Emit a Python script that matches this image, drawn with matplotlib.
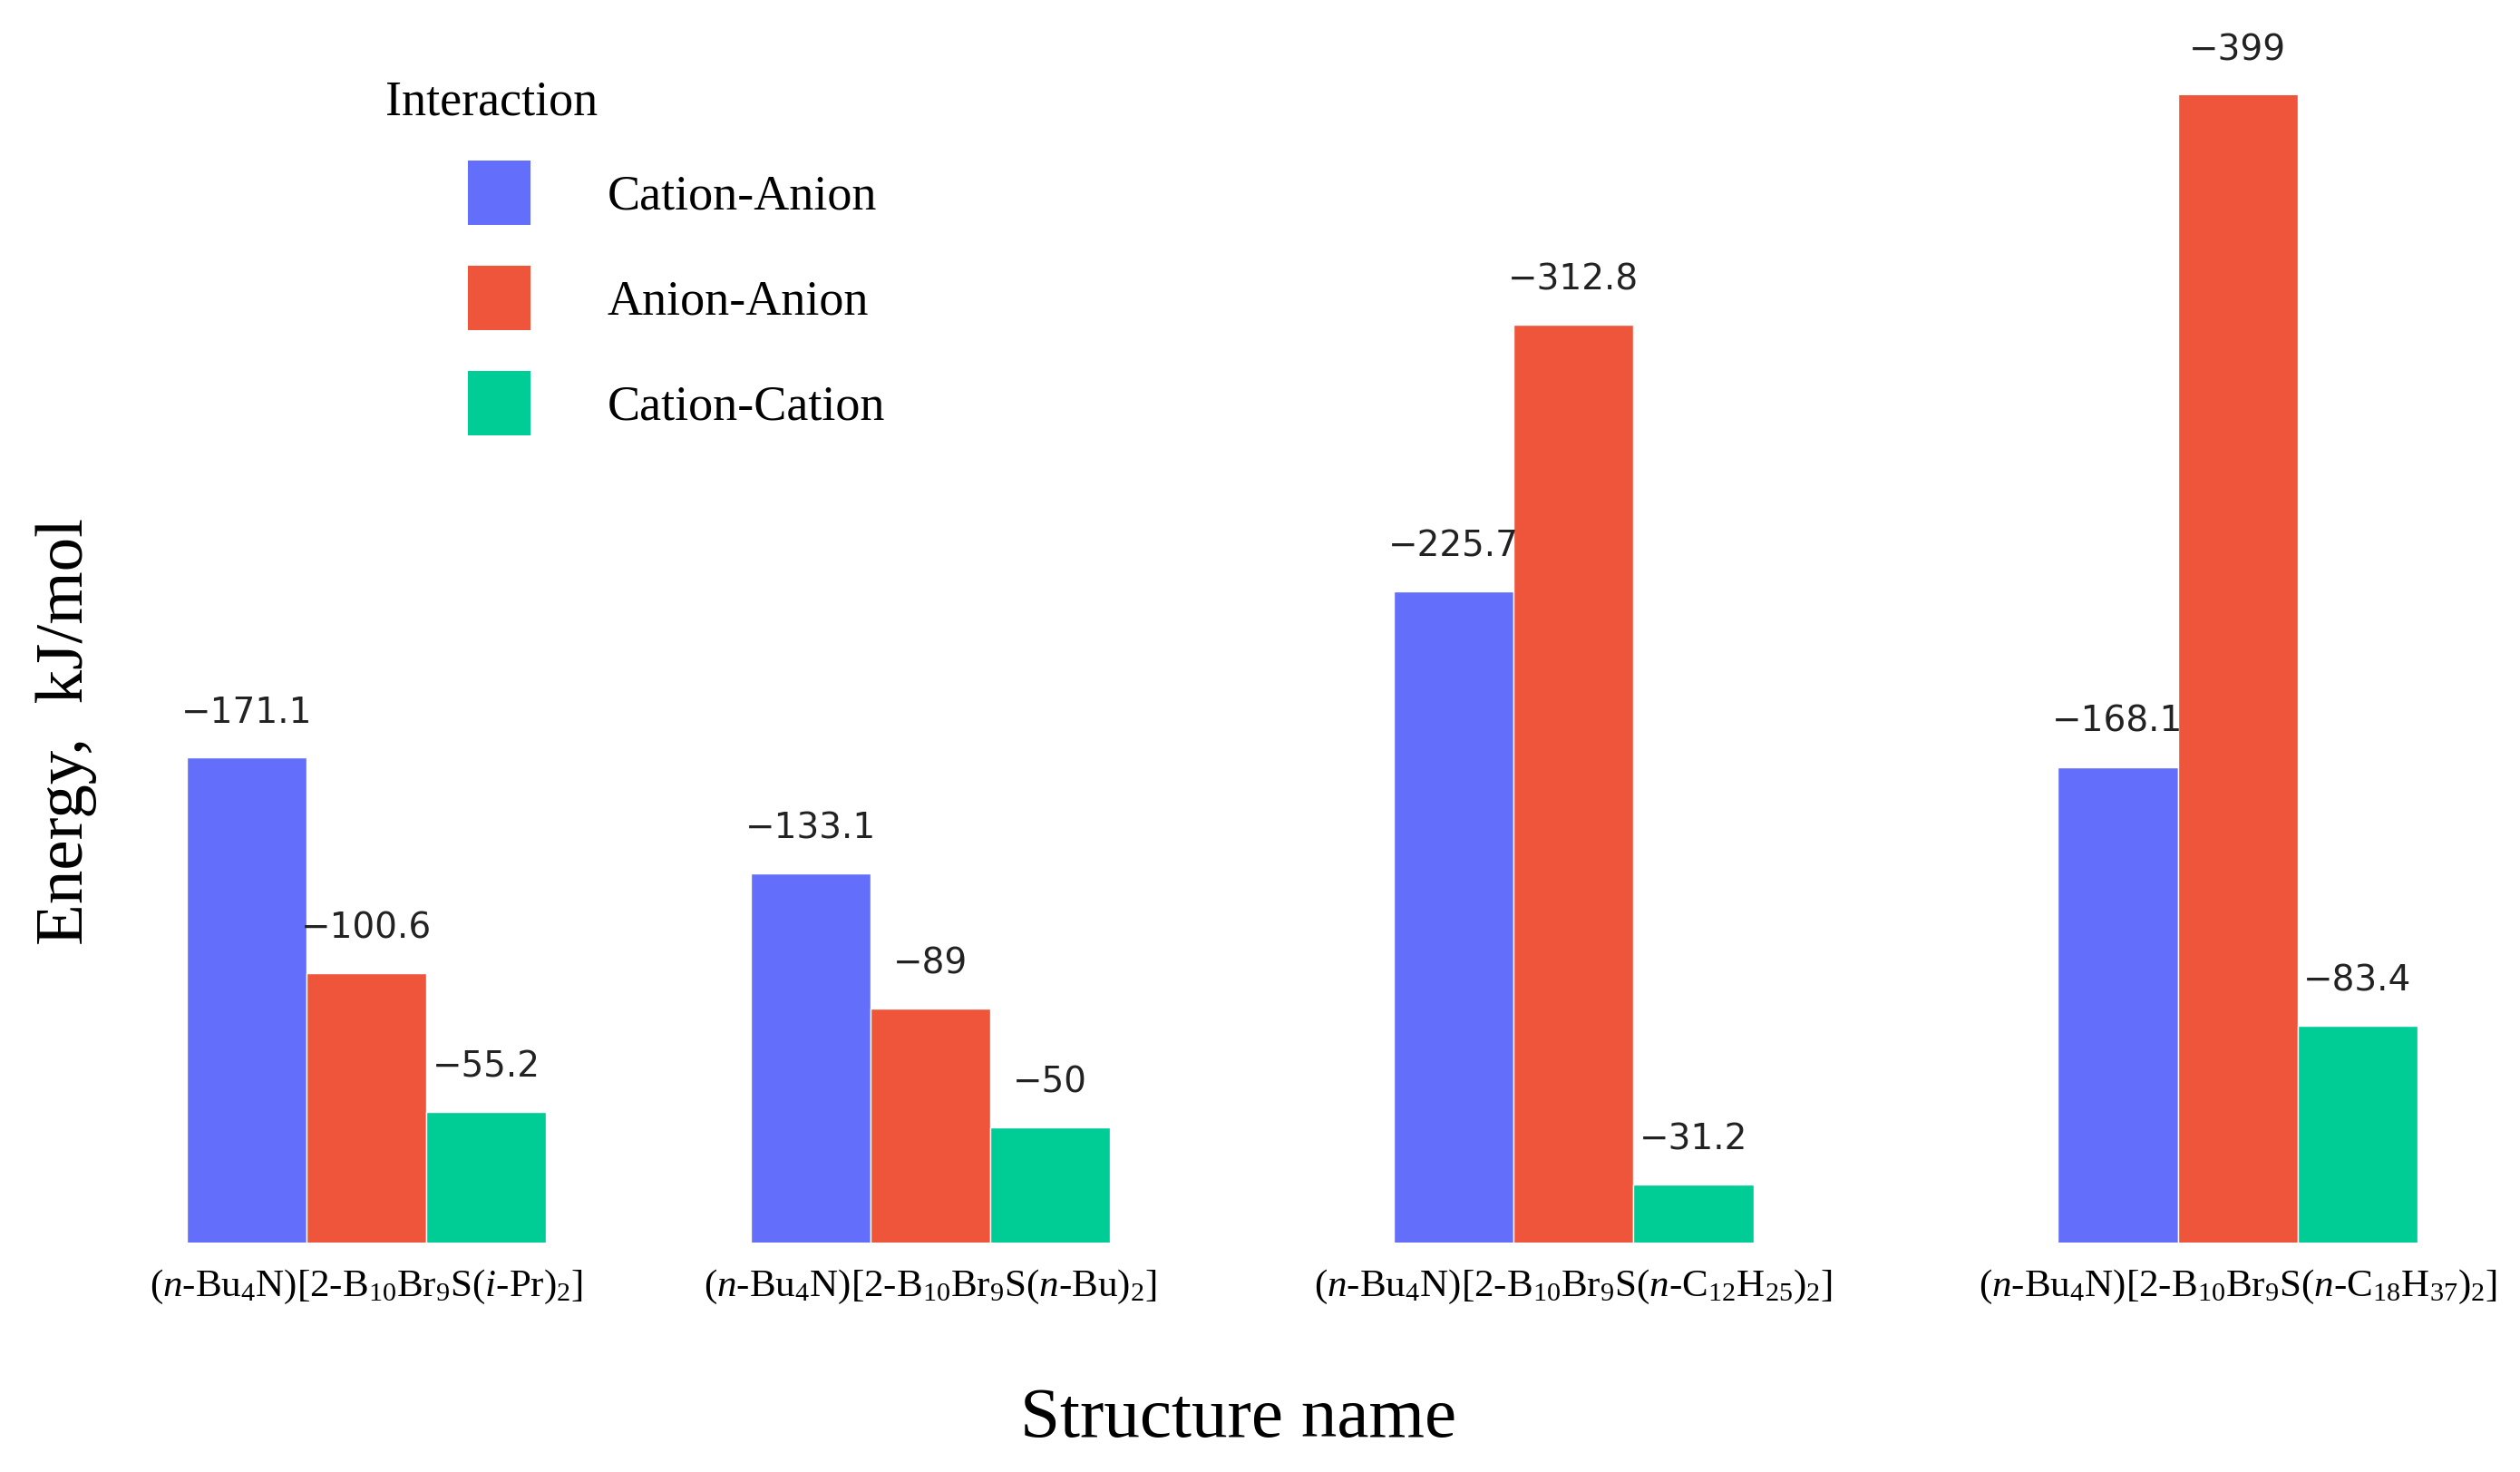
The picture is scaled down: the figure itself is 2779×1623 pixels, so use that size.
import numpy as np
import matplotlib
matplotlib.use('Agg')
import matplotlib.pyplot as plt
from matplotlib.patches import Patch

# data (interaction energies, kJ/mol)
structures = ['($\\it{n}$-Bu$_4$N)[2-B$_{10}$Br$_9$S($\\it{i}$-Pr)$_2$]',
              '($\\it{n}$-Bu$_4$N)[2-B$_{10}$Br$_9$S($\\it{n}$-Bu)$_2$]',
              '($\\it{n}$-Bu$_4$N)[2-B$_{10}$Br$_9$S($\\it{n}$-C$_{12}$H$_{25}$)$_2$]',
              '($\\it{n}$-Bu$_4$N)[2-B$_{10}$Br$_9$S($\\it{n}$-C$_{18}$H$_{37}$)$_2$]']
cation_anion = [-171.1, -133.1, -225.7, -168.1]
anion_anion = [-100.6, -89, -312.8, -399]
cation_cation = [-55.2, -50, -31.2, -83.4]
series_names = ['Cation-Anion', 'Anion-Anion', 'Cation-Cation']
colors = ['#636EFA', '#EF553B', '#00CC96']

# group centres are not evenly spaced in the original
group_pos = np.array([0, 1.002, 2.145, 3.325])
width = 0.213
y_lo, y_hi = 12.3, 388.1   # visible range of the original (tallest bar is cut)

plt.rcParams['mathtext.fontset'] = 'custom'
plt.rcParams['mathtext.rm'] = 'Liberation Serif'
plt.rcParams['mathtext.it'] = 'Liberation Serif:italic'
serif = 'Liberation Serif'

fig = plt.figure(figsize=(27.79, 16.23), dpi=100)
ax = fig.add_axes([0.0741, 0.1559, 0.8852, 0.7794])

series = [cation_anion, anion_anion, cation_cation]
for i, vals in enumerate(series):
    vals = np.array(vals)
    xs = group_pos + (i - 1) * width
    ax.bar(xs, np.abs(vals), width, color=colors[i], edgecolor='white', linewidth=1)
    for x, v in zip(xs, vals):
        ax.annotate('\u2212%g' % abs(v), (x, min(abs(v), y_hi)), xytext=(0, 22),
                    textcoords='offset points', ha='center', va='bottom',
                    fontsize=28, family='DejaVu Sans', color='#222222',
                    annotation_clip=False)

ax.set_xlim(group_pos[0] - 1.5 * width, group_pos[-1] + 1.5 * width)
ax.set_ylim(y_lo, y_hi)
ax.set_xticks(group_pos)
ax.set_xticklabels(structures, fontsize=31, family=serif)
ax.tick_params(axis='x', length=0, pad=20)
ax.set_yticks([])
for s in ax.spines.values():
    s.set_visible(False)

fig.text(0.0265, 0.503, 'Energy,  kJ/mol', rotation=90, ha='center', va='center',
         fontsize=54, family=serif)
fig.text(0.4915, 0.0357, 'Structure name', ha='center', va='center',
         fontsize=57, family=serif)

# legend
fig.text(0.153, 0.930, 'Interaction', ha='left', va='center', fontsize=39, family=serif)
handles = [Patch(facecolor=c) for c in colors]
fig.legend(handles, series_names, loc='upper left', bbox_to_anchor=(516 / 2779, 0.891),
           frameon=False, borderpad=0, borderaxespad=0, handlelength=1.27,
           handleheight=1.64, handletextpad=1.57, labelspacing=0.83,
           prop={'family': serif, 'size': 39})

fig.savefig('out.png', dpi=100)
